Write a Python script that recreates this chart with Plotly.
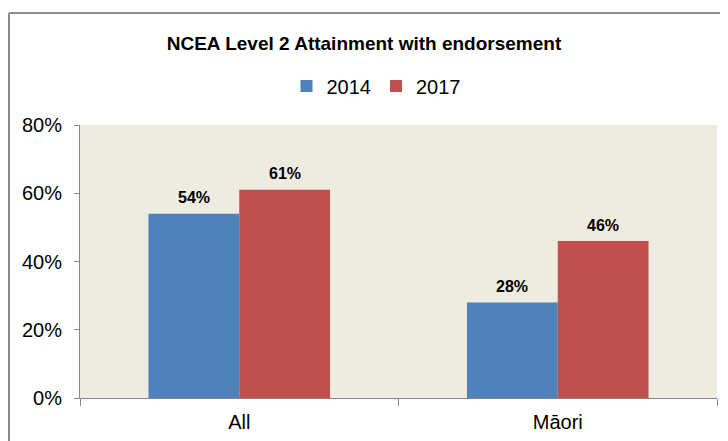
import plotly.graph_objects as go

categories = ["All", "Māori"]
series_names = ["2014", "2017"]
values_2014 = [0.54, 0.28]
values_2017 = [0.61, 0.46]
colors = ["#4F81BD", "#C0504D"]
title_text = "NCEA Level 2 Attainment with endorsement"

# figure is drawn inside the page body (8px default margin), so work in figure coords
W, H = 720, 433
L, R, T, B = 72, 11, 117, 43
pw = W - L - R
ph = H - T - B
BARGAP = 0.43
bar_px = (pw / len(categories)) * (1 - BARGAP) / 2

FONT = "Liberation Sans, Arial, sans-serif"

fig = go.Figure()
all_vals = [values_2014, values_2017]
for i, (name, vals, col) in enumerate(zip(series_names, all_vals, colors)):
    fig.add_trace(go.Bar(
        x=categories, y=vals, name=name, marker_color=col,
        marker_line_width=0, hoverinfo="x+y",
    ))
    for cat, v in zip(categories, vals):
        fig.add_annotation(
            x=cat, y=v, xref="x", yref="y",
            text=f"<b>{v*100:.0f}%</b>", showarrow=False,
            xshift=(i - 0.5) * bar_px, yshift=16, yanchor="middle",
            font=dict(family=FONT, size=16, color="#000000"),
        )

fig.update_layout(
    width=W, height=H,
    margin=dict(l=L, r=R, t=T, b=B, autoexpand=False),
    paper_bgcolor="#FFFFFF",
    plot_bgcolor="#EEECE1",
    font=dict(family=FONT, size=20, color="#000000"),
    bargap=BARGAP, bargroupgap=0,
    title=dict(text="<b>" + title_text + "</b>", x=(356 - L) / pw, xref="paper",
               xanchor="center", y=1 - 35 / H, yref="container", yanchor="middle",
               font=dict(family=FONT, size=19, color="#000000")),
    legend=dict(orientation="h", x=(368 - L) / pw, xanchor="center",
                y=(ph + T - 78) / ph, yanchor="middle",
                font=dict(family=FONT, size=20), itemwidth=30, tracegroupgap=0,
                bgcolor="rgba(0,0,0,0)"),
    showlegend=True,
    xaxis=dict(showline=True, linecolor="#868686", linewidth=1,
               ticks="outside", tickson="boundaries", ticklen=7,
               tickcolor="#868686", showgrid=False, zeroline=False,
               ticklabelstandoff=6, automargin=False),
    yaxis=dict(range=[0, 0.8], dtick=0.2, tickformat=".0%",
               showline=True, linecolor="#868686", linewidth=1,
               ticks="outside", ticklen=5, tickcolor="#868686",
               showgrid=False, zeroline=False, ticklabelstandoff=8,
               automargin=False),
)

# outer chart border (only top and left edges fall inside the frame)
bx = (1 - L) / pw
by = (ph + T - 5) / ph
fig.add_shape(type="line", xref="paper", yref="paper", x0=bx, x1=1.2, y0=by, y1=by,
              line=dict(color="#8C8C8C", width=2))
fig.add_shape(type="line", xref="paper", yref="paper", x0=bx, x1=bx, y0=by, y1=-0.3,
              line=dict(color="#8C8C8C", width=2))

fig.write_html("out.html")
